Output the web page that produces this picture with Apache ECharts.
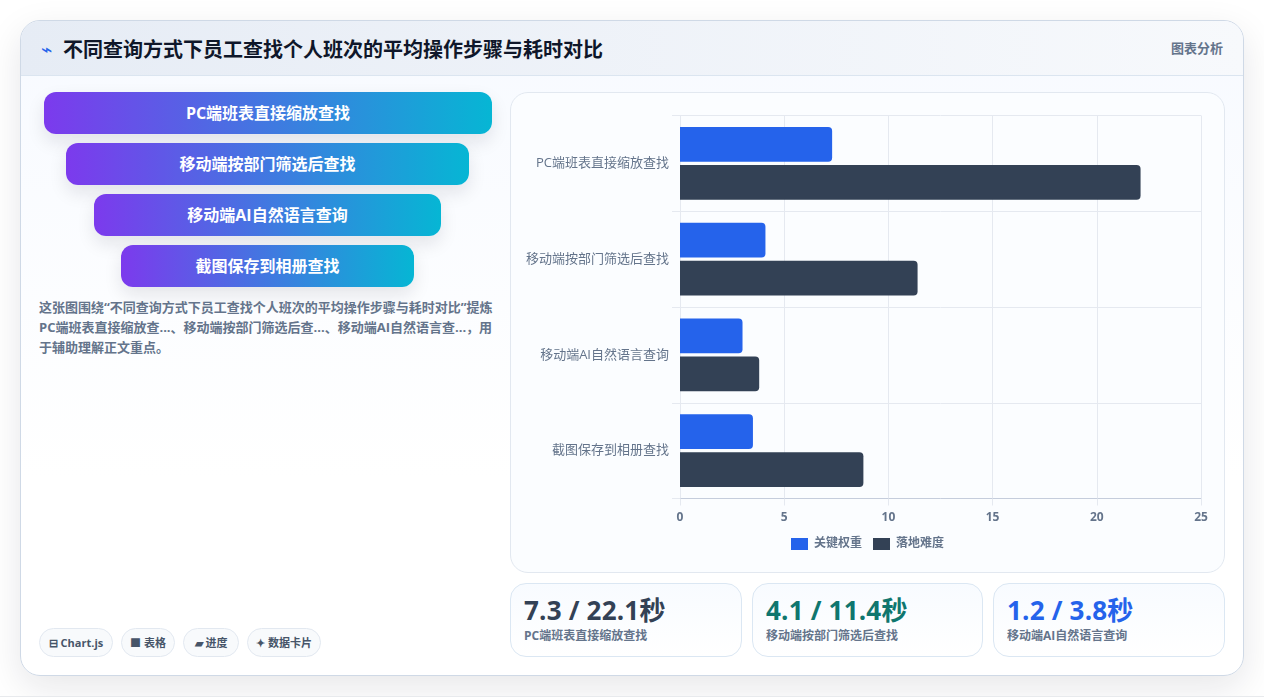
<!DOCTYPE html>
<html lang="zh-CN">
<head>
<meta charset="utf-8">
<title>不同查询方式下员工查找个人班次的平均操作步骤与耗时对比</title>
<script src="https://cdn.jsdelivr.net/npm/echarts@6/dist/echarts.min.js"></script>
<style>
  * { box-sizing: border-box; margin: 0; padding: 0; }
  html, body { width: 1264px; height: 697px; overflow: hidden; background: #fff;
    font-family: "Open Sans", "Noto Sans CJK SC", sans-serif; }
  .page-foot { position: absolute; left: 0; right: 0; top: 696px; height: 1px; background: #e8eaed; }
  .panel { position: absolute; left: 20px; top: 20px; width: 1224px; height: 656px;
    border: 1px solid #cfd9e6; border-radius: 20px; overflow: hidden;
    background: linear-gradient(180deg, #f7faff 0%, #ffffff 70%); }
  .shadow { position: absolute; left: 20px; top: 20px; width: 1224px; height: 656px; border-radius: 20px;
    box-shadow: 0 12px 36px rgba(15, 23, 42, .10); }
  .head { position: absolute; left: 0; top: 0; right: 0; height: 55px;
    background: linear-gradient(90deg, #e6ecf5 0%, #f7f9fc 100%); border-bottom: 1px solid #dbe5f0; }
  .head .mark { position: absolute; left: 20px; top: 17px; font: 400 19px/22px "DejaVu Sans"; color: #2563eb; }
  .head h1 { position: absolute; left: 42px; top: 14px; font-size: 20px; line-height: 30px; font-weight: 700; color: #0f172a; white-space: nowrap; }
  .head .tag { position: absolute; right: 20px; top: 17px; font-size: 13px; line-height: 20px; font-weight: 700; color: #64748b; }
  #steps { position: absolute; left: 0; top: 0; }
  .step { position: absolute; height: 42px; border-radius: 12px; color: #fff; font-size: 16px; font-weight: 700;
    line-height: 42px; text-align: center; white-space: nowrap;
    background: linear-gradient(90deg, #7c3aed, #06b6d4); box-shadow: 0 8px 18px rgba(15, 23, 42, .10); }
  .step:nth-child(1) { left: 23px; top: 71px; width: 448px; }
  .step:nth-child(2) { left: 45px; top: 122px; width: 403px; }
  .step:nth-child(3) { left: 73px; top: 173px; width: 347px; }
  .step:nth-child(4) { left: 100px; top: 224px; width: 293px; }
  .note { position: absolute; left: 18px; top: 276px; width: 460px; font-size: 13px; line-height: 20px; font-weight: 700; color: #64748b; }
  #chips span { position: absolute; top: 607px; height: 29px; border: 1px solid #e2e8f0; border-radius: 15px; background: #f8fafc;
    font-size: 11px; line-height: 27px; font-weight: 700; color: #475569; text-align: center; white-space: nowrap; }
  #chips span:nth-child(1) { left: 18px; width: 74px; }
  #chips span:nth-child(2) { left: 100px; width: 54px; }
  #chips span:nth-child(3) { left: 162px; width: 56px; }
  #chips span:nth-child(4) { left: 226px; width: 74px; }
  .chart-card { position: absolute; left: 489px; top: 71px; width: 715px; height: 481px;
    border: 1px solid #e2e8f0; border-radius: 18px; background: #fbfdff; }
  #chart { position: absolute; left: -1px; top: -1px; width: 715px; height: 481px; }
  .stat { position: absolute; top: 562px; height: 74px; border: 1px solid #dbe7f3; border-radius: 16px;
    background: linear-gradient(180deg, #f8fbff, #ffffff); }
  .stat:nth-of-type(1) { left: 489px; width: 232px; }
  .stat:nth-of-type(2) { left: 731px; width: 231px; }
  .stat:nth-of-type(3) { left: 972px; width: 232px; }
  .stat b { position: absolute; left: 13px; top: 7px; font-size: 26px; line-height: 38px; font-weight: 700; white-space: nowrap; letter-spacing: .2px; }
  .stat i { position: absolute; left: 13px; top: 43px; font-style: normal; font-size: 12px; line-height: 18px; font-weight: 700; color: #64748b; white-space: nowrap; }
</style>
</head>
<body>
<div class="shadow"></div>
<div class="page-foot"></div>
<div class="panel">
  <div class="head">
    <span class="mark">⌁</span>
    <h1 id="title"></h1>
    <span class="tag">图表分析</span>
  </div>
  <div id="steps"></div>
  <p class="note" id="note"></p>
  <div id="chips"></div>
  <div class="chart-card"><div id="chart"></div></div>
  <div id="stats"></div>
</div>
<script>
const titleText = '不同查询方式下员工查找个人班次的平均操作步骤与耗时对比';
const noteText = '这张图围绕“不同查询方式下员工查找个人班次的平均操作步骤与耗时对比”提炼PC端班表直接缩放查...、移动端按部门筛选后查...、移动端AI自然语言查...，用于辅助理解正文重点。';
const categories = ['PC端班表直接缩放查找', '移动端按部门筛选后查找', '移动端AI自然语言查询', '截图保存到相册查找'];
const seriesNames = ['关键权重', '落地难度'];
const keyWeight = [7.3, 4.1, 3.0, 3.5];
const difficulty = [22.1, 11.4, 3.8, 8.8];
const chipLabels = ['⊟ Chart.js', '■ 表格', '▰ 进度', '✦ 数据卡片'];
const statValues = ['7.3 / 22.1秒', '4.1 / 11.4秒', '1.2 / 3.8秒'];
const statColors = ['#334155', '#0f766e', '#2563eb'];
const axisTicks = { min: 0, max: 25, interval: 5 };

document.getElementById('title').textContent = titleText;
document.getElementById('note').textContent = noteText;
document.getElementById('steps').innerHTML = categories.map(c => `<div class="step">${c}</div>`).join('');
document.getElementById('chips').innerHTML = chipLabels.map(c => `<span>${c}</span>`).join('');
document.getElementById('stats').innerHTML = statValues.map((v, i) =>
  `<div class="stat"><b style="color:${statColors[i]}">${v}</b><i>${categories[i]}</i></div>`).join('');

const chart = echarts.init(document.getElementById('chart'), null, { renderer: 'canvas' });
const barStyle = (color) => ({
  type: 'bar', barWidth: 34.7, barGap: '10%',
  itemStyle: { color, borderRadius: [0, 4, 4, 0] }
});
chart.setOption({
  animation: false,
  textStyle: { fontFamily: '"Open Sans", "Noto Sans CJK SC", sans-serif' },
  grid: { left: 170, right: 24, top: 23.5, bottom: 74.5, containLabel: false },
  legend: {
    left: 276, top: 441, itemWidth: 17, itemHeight: 12, itemGap: 11, icon: 'rect',
    textStyle: { fontSize: 12, fontWeight: 700, color: '#64748b', padding: [0, 0, 0, 1] },
    data: seriesNames
  },
  xAxis: {
    type: 'value', min: axisTicks.min, max: axisTicks.max, interval: axisTicks.interval,
    axisLine: { show: true, lineStyle: { color: '#c5cddc' } },
    axisTick: { show: true, length: 7, lineStyle: { color: '#e5e9f0' } },
    axisLabel: { margin: 13, fontSize: 12, fontWeight: 700, color: '#64748b' },
    splitLine: { show: true, lineStyle: { color: '#e5e9f0', width: 1 } }
  },
  yAxis: {
    type: 'category', inverse: true, data: categories,
    axisLine: { show: true, lineStyle: { color: '#e5e9f0' } },
    axisTick: { show: true, length: 8, lineStyle: { color: '#e5e9f0' } },
    axisLabel: { margin: 11, fontSize: 13, color: '#64748b', padding: [0, 0, 2, 0] },
    splitLine: { show: true, lineStyle: { color: '#e5e9f0', width: 1 } }
  },
  series: [
    Object.assign(barStyle('#2563eb'), { name: seriesNames[0], data: keyWeight }),
    Object.assign(barStyle('#334155'), { name: seriesNames[1], data: difficulty })
  ]
});
</script>
</body>
</html>
